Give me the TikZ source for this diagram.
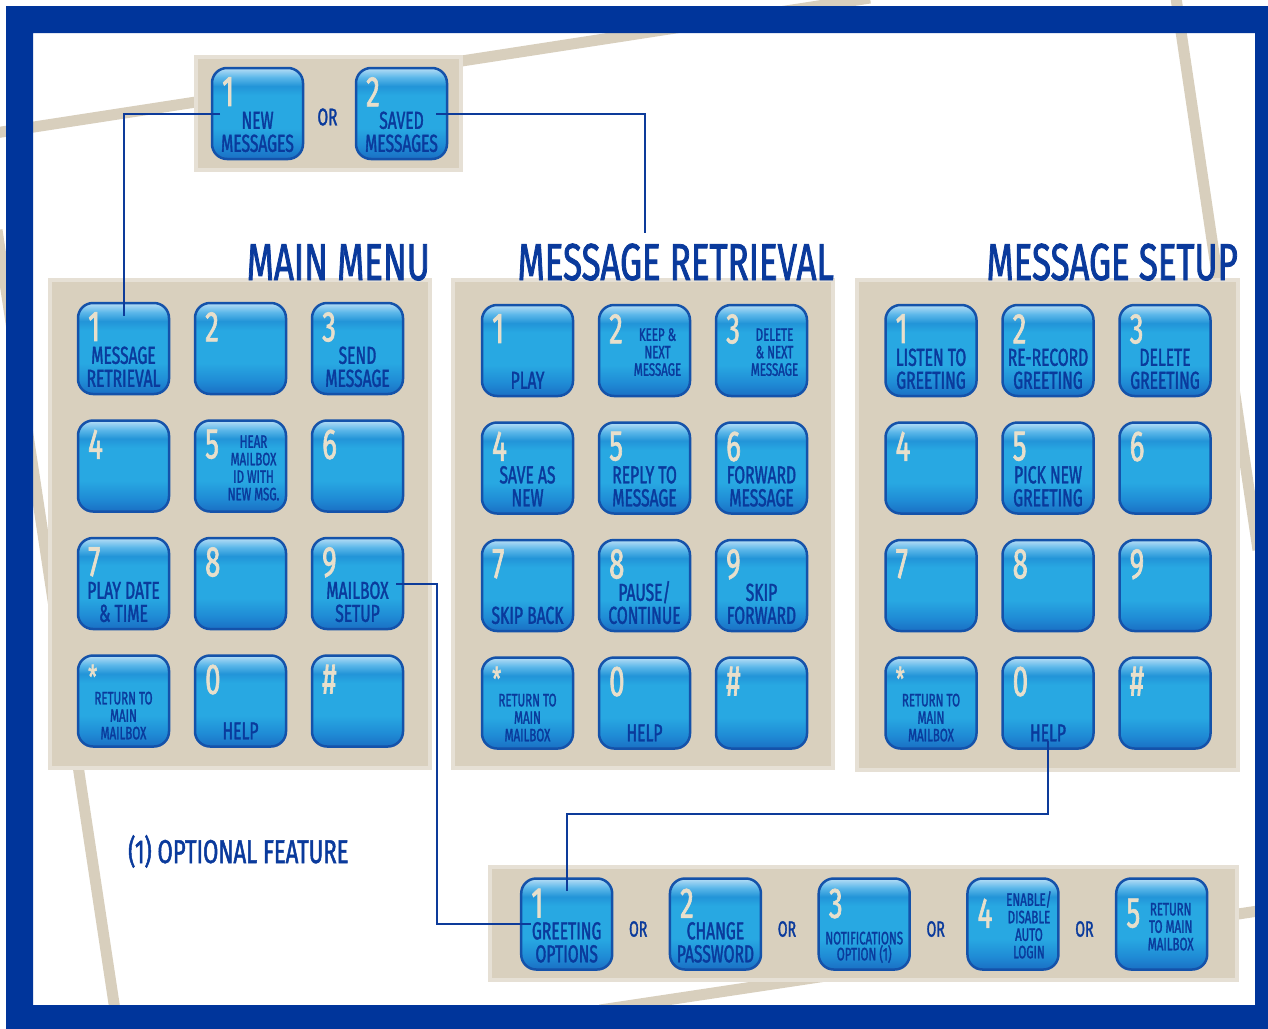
\documentclass[tikz,border=0pt]{standalone}
\usepackage{fontspec}
\newfontfamily\condfont[FakeStretch=0.64, FakeBold=1.5]{Fira Sans}
\newfontfamily\titlefont[FakeStretch=0.67, FakeBold=1.5]{Fira Sans}
\usetikzlibrary{positioning}

\definecolor{framec}{HTML}{00359B}
\definecolor{panelc}{HTML}{D9D0BE}
\definecolor{stripec}{HTML}{D8CFBD}
\definecolor{txtc}{HTML}{0A3A9C}
\definecolor{linkc}{HTML}{0D3B9A}
\definecolor{digitc}{HTML}{E8DFCB}
\definecolor{keyedge}{HTML}{1452AA}
\definecolor{keyhi}{HTML}{B8DEF6}
\definecolor{keylite}{HTML}{5DB8EA}
\definecolor{keyup}{HTML}{2294D8}
\definecolor{keymid}{HTML}{28A8E2}
\definecolor{keylow}{HTML}{1F8BD5}
\definecolor{keybot}{HTML}{1A6FC4}

% the key's box spans 25bp..75bp of the shading
\pgfdeclareverticalshading{keyshade}{100bp}{color(0bp)=(keybot); color(25bp)=(keybot); color(32bp)=(keylow); color(42bp)=(keymid); color(60bp)=(keymid); color(65bp)=(keyup); color(70bp)=(keylite); color(75bp)=(keyhi); color(100bp)=(keyhi)}

\newcommand{\starkey}{\fontsize{32}{32}\selectfont *}

\tikzset{
  key/.style={draw=keyedge, line width=2.5, rounded corners=15, shade, shading=keyshade,
    minimum width=91, minimum height=91, inner sep=0, outer sep=0},
  digit/.style={anchor=north west, inner sep=0, text=digitc,
    font=\condfont\fontsize{43}{43}\selectfont},
  lbl/.style={anchor=south, inner sep=0, text depth=0pt, align=center, text=txtc},
  tbig/.style={font=\condfont\fontsize{24.5}{23}\selectfont},
  tsmall/.style={font=\condfont\fontsize{18}{17.5}\selectfont},
  tside/.style={tsmall, xshift=13, yshift=4},
  thigh/.style={tsmall, xshift=13, yshift=13},
  tnote/.style={font=\condfont\fontsize{18}{16}\selectfont, yshift=2},
  tfour/.style={tsmall, xshift=16, yshift=4},
  tfive/.style={tsmall, xshift=9, yshift=12},
  title/.style={anchor=base east, inner sep=0, text=txtc, font=\titlefont\fontsize{52}{52}\selectfont},
  ortext/.style={inner sep=0, text=txtc, font=\condfont\fontsize{24}{24}\selectfont},
  panel/.style={fill=panelc, draw=panelc!65!white, line width=4},
  stripe/.style={draw=stripec, line width=11},
  link/.style={draw=linkc, line width=2}
}

% one keypad of 12 keys: name, first x, first y, entries
\newcommand{\keypad}[4]{%
  \foreach \kd/\kl/\ks [count=\i] in {#4}{%
    \pgfmathsetmacro{\kx}{#2+117*mod(\i-1,3)}%
    \pgfmathsetmacro{\ky}{#3+117.5*int((\i-1)/3)}%
    \node[key] (#1\i) at (\kx,\ky) {};
    \node[digit] at ([xshift=10,yshift=-9]#1\i.north west) {\kd};
    \node[lbl,\ks] at ([yshift=7]#1\i.south) {\kl};
  }%
}

\begin{document}
\begin{tikzpicture}[x=1pt, y=-1pt]
\useasboundingbox (0,0) rectangle (1268,1028);
\fill[white] (0,0) rectangle (1268,1028);

% background stripes
\draw[stripe] (-5,133) -- (870,-2);
\draw[stripe] (1176,-2) -- (1258,550);
\draw[stripe] (-3,230) -- (118,1030);
\draw[stripe] (600,1010) -- (1258,911);

% frame
\fill[framec, even odd rule] (6,6) rectangle (1280,1040) (33,33) rectangle (1255,1005);

% panels
\draw[panel] (196,57) rectangle (461,170);
\draw[panel] (50,280) rectangle (430,768);
\draw[panel] (453,280) rectangle (833,768);
\draw[panel] (857,280) rectangle (1238,770);
\draw[panel] (490,867) rectangle (1237,980);

% titles
\node[title] (maintitle) at (430,280) {MAIN MENU};
\node[title] (retrtitle) at (834,280) {MESSAGE RETRIEVAL};
\node[title] (setuptitle) at (1238,280) {MESSAGE SETUP};

% top choice
\foreach \kd/\kl/\kx in {1/{NEW\\MESSAGES}/257.5, 2/{SAVED\\MESSAGES}/401.5}{
  \node[key] (top\kd) at (\kx,113.5) {};
  \node[digit] at ([xshift=10,yshift=-9]top\kd.north west) {\kd};
  \node[lbl,tbig] at ([yshift=7]top\kd.south) {\kl};
}
\node[ortext] (or0) at ([xshift=24.5,yshift=-3.5]top1.east) {OR};

% keypads
\keypad{main}{123.5}{348.5}{1/{MESSAGE\\RETRIEVAL}/tbig, 2/{}/tbig, 3/{SEND\\MESSAGE}/tbig,
  4/{}/tbig, 5/{HEAR\\MAILBOX\\ID WITH\\NEW MSG.}/tside, 6/{}/tbig,
  7/{PLAY DATE\\\& TIME}/tbig, 8/{}/tbig, 9/{MAILBOX\\SETUP}/tbig,
  \starkey/{RETURN TO\\MAIN\\MAILBOX}/tsmall, 0/{HELP}/tbig, \#/{}/tbig}
\keypad{retr}{527.5}{350.5}{1/{PLAY}/tbig, 2/{KEEP \&\\NEXT\\MESSAGE}/thigh, 3/{DELETE\\\& NEXT\\MESSAGE}/thigh,
  4/{SAVE AS\\NEW}/tbig, 5/{REPLY TO\\MESSAGE}/tbig, 6/{FORWARD\\MESSAGE}/tbig,
  7/{SKIP BACK}/tbig, 8/{PAUSE/\\CONTINUE}/tbig, 9/{SKIP\\FORWARD}/tbig,
  \starkey/{RETURN TO\\MAIN\\MAILBOX}/tsmall, 0/{HELP}/tbig, \#/{}/tbig}
\keypad{setup}{931}{350.5}{1/{LISTEN TO\\GREETING}/tbig, 2/{RE-RECORD\\GREETING}/tbig, 3/{DELETE\\GREETING}/tbig,
  4/{}/tbig, 5/{PICK NEW\\GREETING}/tbig, 6/{}/tbig,
  7/{}/tbig, 8/{}/tbig, 9/{}/tbig,
  \starkey/{RETURN TO\\MAIN\\MAILBOX}/tsmall, 0/{HELP}/tbig, \#/{}/tbig}

% mailbox setup options
\foreach \kd/\kl/\ks/\dy [count=\i] in {1/{GREETING\\OPTIONS}/tbig/-10, 2/{CHANGE\\PASSWORD}/tbig/-10,
  3/{NOTIFICATIONS\\OPTION (1)}/tnote/-10, 4/{ENABLE/\\DISABLE\\AUTO\\LOGIN}/tfour/-20,
  5/{RETURN\\TO MAIN\\MAILBOX}/tfive/-20}{
  \node[key] (opt\i) at (566.7+148.75*\i-148.75,924) {};
  \node[digit] at ([xshift=10,yshift=\dy]opt\i.north west) {\kd};
  \node[lbl,\ks] at ([yshift=7]opt\i.south) {\kl};
}
\foreach \i in {1,...,4}
  \node[ortext, font=\condfont\fontsize{22}{22}\selectfont] (or\i) at ([xshift=26,yshift=-5]opt\i.east) {OR};

\node[anchor=base west, inner sep=0, text=txtc, font=\titlefont\fontsize{33}{33}\selectfont]
  (note) at (128,863) {(1) OPTIONAL FEATURE};

% connectors
\coordinate (retrtop) at (645,233);
\draw[link] ([xshift=8]top1.west) -| ([yshift=-13]main1.north);
\draw[link] ([xshift=-11]top2.east) -| (retrtop);
\draw[link] ([xshift=-7]main9.east) -- ++(41,0) |- ([xshift=10]opt1.west);
\draw[link] ([yshift=8]setup11.south) -- ++(0,73) -| ([yshift=-12]opt1.north);
\end{tikzpicture}
\end{document}
